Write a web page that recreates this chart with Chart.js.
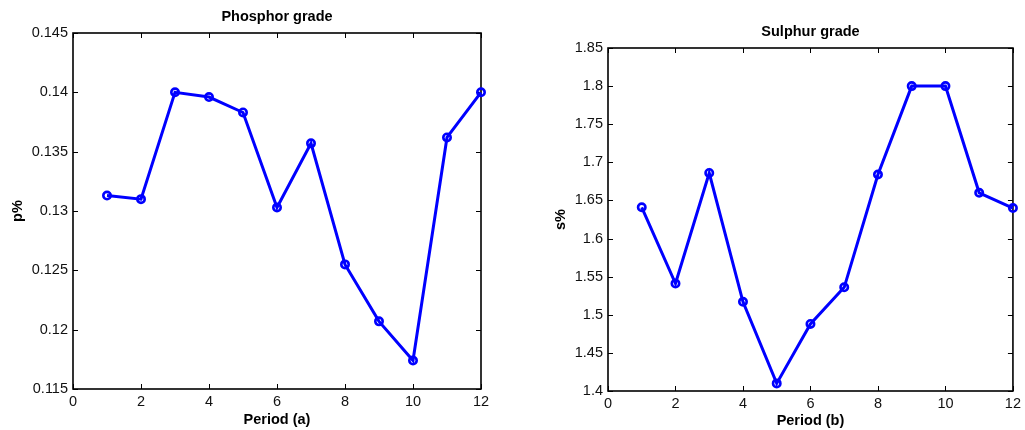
<!DOCTYPE html>
<html>
<head>
<meta charset="utf-8">
<script src="https://cdn.jsdelivr.net/npm/chart.js@4/dist/chart.umd.min.js"></script>
<style>
  html, body { margin: 0; padding: 0; background: #fff; }
  #wrap { position: relative; width: 1025px; height: 430px; overflow: hidden; }
  .box { position: absolute; top: 0; height: 430px; }
</style>
</head>
<body>
<div id="wrap">
  <div class="box" style="left:0;width:512px"><canvas id="c1" width="512" height="430"></canvas></div>
  <div class="box" style="left:512px;width:513px"><canvas id="c2" width="513" height="430"></canvas></div>
</div>
<script>
const periods = [1, 2, 3, 4, 5, 6, 7, 8, 9, 10, 11, 12];
const phosphor = [0.1313, 0.1310, 0.1400, 0.1396, 0.1383, 0.1303, 0.1357, 0.1255, 0.1207, 0.1174, 0.1362, 0.1400];
const sulphur = [1.641, 1.541, 1.686, 1.517, 1.410, 1.488, 1.536, 1.684, 1.800, 1.800, 1.660, 1.640];
const xTicks = [0, 2, 4, 6, 8, 10, 12];
const yTicksP = [0.115, 0.12, 0.125, 0.13, 0.135, 0.14, 0.145];
const yTicksS = [1.4, 1.45, 1.5, 1.55, 1.6, 1.65, 1.7, 1.75, 1.8, 1.85];

Chart.defaults.font.family = '"Liberation Sans", Arial, sans-serif';
Chart.defaults.color = '#000';
Chart.defaults.devicePixelRatio = 1;

const boxTicks = {
  id: 'boxTicks',
  beforeDatasetsDraw(chart) {
    const ctx = chart.ctx, a = chart.chartArea;
    const xs = chart.scales.x, ys = chart.scales.y;
    const L = 5;
    ctx.save();
    ctx.strokeStyle = '#000';
    ctx.lineWidth = 1.6;
    ctx.strokeRect(a.left, a.top, a.right - a.left, a.bottom - a.top);
    ctx.lineWidth = 1;
    ctx.beginPath();
    xs.ticks.forEach((t, i) => {
      const x = Math.round(xs.getPixelForTick(i)) + 0.5;
      ctx.moveTo(x, a.bottom); ctx.lineTo(x, a.bottom - L);
      ctx.moveTo(x, a.top); ctx.lineTo(x, a.top + L);
    });
    ys.ticks.forEach((t, i) => {
      const y = Math.round(ys.getPixelForTick(i)) + 0.5;
      ctx.moveTo(a.left, y); ctx.lineTo(a.left + L, y);
      ctx.moveTo(a.right, y); ctx.lineTo(a.right - L, y);
    });
    ctx.stroke();
    ctx.restore();
  }
};

function makeChart(id, cfg) {
  const fs = 14.5;
  return new Chart(document.getElementById(id), {
    type: 'line',
    data: {
      datasets: [{
        data: periods.map((p, i) => ({ x: p, y: cfg.values[i] })),
        borderColor: '#0000ff',
        borderWidth: 3,
        pointRadius: 3.7,
        pointBorderWidth: 2.6,
        pointBorderColor: '#0000ff',
        pointBackgroundColor: 'rgba(0,0,0,0)',
        pointStyle: 'circle',
        tension: 0,
        clip: false
      }]
    },
    options: {
      responsive: false,
      animation: false,
      events: [],
      layout: { padding: { left: 0, right: cfg.padRight, top: 0, bottom: 0 } },
      plugins: {
        legend: { display: false },
        tooltip: { enabled: false },
        title: {
          display: true,
          text: cfg.title,
          fullSize: false,
          font: { size: fs, weight: 'bold' },
          color: '#000',
          padding: { top: cfg.titleTop, bottom: cfg.titleBottom }
        }
      },
      scales: {
        x: {
          type: 'linear',
          min: xTicks[0],
          max: xTicks[xTicks.length - 1],
          afterBuildTicks: s => { s.ticks = xTicks.map(v => ({ value: v })); },
          afterFit: s => { s.height = cfg.xHeight; },
          grid: { display: false, drawTicks: false },
          border: { display: false },
          ticks: { font: { size: fs }, color: '#111', padding: 4, maxRotation: 0, autoSkip: false },
          title: { display: true, text: cfg.xTitle, font: { size: fs, weight: 'bold' }, color: '#000', padding: { top: 0, bottom: cfg.xTitleBottom } }
        },
        y: {
          type: 'linear',
          min: cfg.yTicks[0],
          max: cfg.yTicks[cfg.yTicks.length - 1],
          afterBuildTicks: s => { s.ticks = cfg.yTicks.map(v => ({ value: v })); },
          afterFit: s => { s.width = cfg.yWidth; },
          grid: { display: false, drawTicks: false },
          border: { display: false },
          ticks: {
            font: { size: fs }, color: '#111', padding: 5, autoSkip: false,
            callback: v => String(Number(v.toFixed(4)))
          },
          title: { display: true, text: cfg.yTitle, font: { size: fs, weight: 'bold' }, color: '#000', padding: { top: cfg.yTitleTop, bottom: 0 } }
        }
      }
    },
    plugins: [boxTicks]
  });
}

makeChart('c1', {
  values: phosphor, yTicks: yTicksP, title: 'Phosphor grade', xTitle: 'Period (a)', yTitle: 'p%',
  padRight: 31, yWidth: 73, xHeight: 41, titleTop: 8, titleBottom: 7.6, xTitleBottom: 1.3, yTitleTop: 9.3
});
makeChart('c2', {
  values: sulphur, yTicks: yTicksS, title: 'Sulphur grade', xTitle: 'Period (b)', yTitle: 's%',
  padRight: 10, yWidth: 96, xHeight: 39, titleTop: 23.6, titleBottom: 7, xTitleBottom: 0, yTitleTop: 40.3
});
</script>
</body>
</html>
